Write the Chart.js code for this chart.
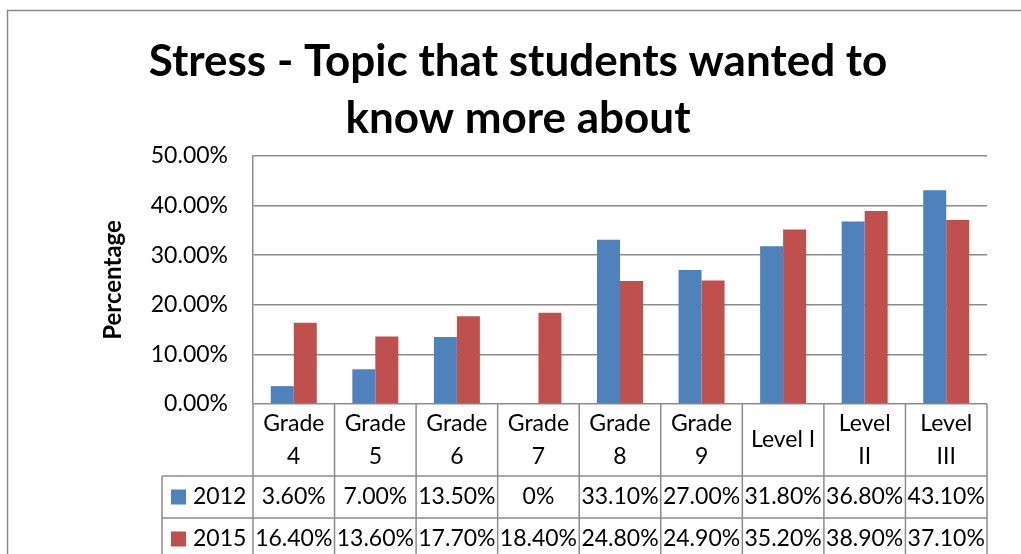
<!DOCTYPE html>
<html>
<head>
<meta charset="utf-8">
<script src="https://cdn.jsdelivr.net/npm/chart.js@4"></script>
<style>
  html, body { margin: 0; padding: 0; background: #fff; }
  canvas { display: block; }
</style>
</head>
<body>
<canvas id="stressChart" width="1021" height="554"></canvas>
<script>
// Données
const categories = ['Grade 4', 'Grade 5', 'Grade 6', 'Grade 7', 'Grade 8', 'Grade 9', 'Level I', 'Level II', 'Level III'];
const headerLines = [['Grade', '4'], ['Grade', '5'], ['Grade', '6'], ['Grade', '7'], ['Grade', '8'], ['Grade', '9'], ['Level I'], ['Level', 'II'], ['Level', 'III']];
const values2012 = [3.6, 7.0, 13.5, 0, 33.1, 27.0, 31.8, 36.8, 43.1];
const values2015 = [16.4, 13.6, 17.7, 18.4, 24.8, 24.9, 35.2, 38.9, 37.1];
const seriesNames = ['2012', '2015'];
const yTicks = [0, 10, 20, 30, 40, 50];

const blue = '#4F81BD';
const red = '#C0504D';
const gridColor = '#8c8c8c';
const fontFamily = 'Lato, "Open Sans", sans-serif';

function fmt(v) {
    return v === 0 ? '0%' : v.toFixed(2) + '%';
}

// Cadre extérieur + tableau de données
const dataTablePlugin = {
    id: 'dataTable',
    beforeDraw(chart) {
        const ctx = chart.ctx;
        ctx.save();
        ctx.strokeStyle = '#8a8a8a';
        ctx.lineWidth = 1.5;
        ctx.strokeRect(7.5, 10.5, 1200, 1000);
        ctx.restore();
    },
    afterDraw(chart) {
        const ctx = chart.ctx;
        const area = chart.chartArea;
        const n = categories.length;
        const step = (area.right - area.left) / n;
        const top = area.bottom;
        const headerBottom = top + 72;
        const row1Bottom = headerBottom + 42;
        const row2Bottom = row1Bottom + 42;
        const legendLeft = 162;

        ctx.save();
        ctx.strokeStyle = gridColor;
        ctx.lineWidth = 1.5;
        ctx.beginPath();
        for (let i = 0; i <= n; i++) {
            const x = area.left + i * step;
            ctx.moveTo(x, top);
            ctx.lineTo(x, row2Bottom);
        }
        ctx.moveTo(legendLeft, headerBottom);
        ctx.lineTo(legendLeft, row2Bottom);
        ctx.moveTo(legendLeft, headerBottom);
        ctx.lineTo(area.right, headerBottom);
        ctx.moveTo(legendLeft, row1Bottom);
        ctx.lineTo(area.right, row1Bottom);
        ctx.stroke();

        ctx.fillStyle = '#000';
        ctx.font = '23px ' + fontFamily;
        ctx.textAlign = 'center';
        ctx.textBaseline = 'middle';

        // En-têtes
        headerLines.forEach((lines, i) => {
            const cx = chart.scales.x.getPixelForValue(i);
            const mid = (top + headerBottom) / 2;
            const lh = 33;
            lines.forEach((t, j) => {
                ctx.fillText(t, cx, mid + (j - (lines.length - 1) / 2) * lh);
            });
        });

        // Lignes de valeurs
        const rows = [values2012, values2015];
        const colors = [blue, red];
        const rowMids = [(headerBottom + row1Bottom) / 2, (row1Bottom + row2Bottom) / 2];
        rows.forEach((vals, r) => {
            const cy = rowMids[r];
            ctx.textAlign = 'center';
            vals.forEach((v, i) => {
                ctx.fillText(fmt(v), chart.scales.x.getPixelForValue(i), cy);
            });
            ctx.fillStyle = colors[r];
            ctx.fillRect(legendLeft + 9, cy - 7.5, 15, 15);
            ctx.fillStyle = '#000';
            ctx.textAlign = 'left';
            ctx.fillText(seriesNames[r], legendLeft + 31, cy);
        });
        ctx.restore();
    }
};

const ctx = document.getElementById('stressChart').getContext('2d');
const stressChart = new Chart(ctx, {
    type: 'bar',
    data: {
        labels: categories,
        datasets: [
            { label: seriesNames[0], data: values2012, backgroundColor: blue },
            { label: seriesNames[1], data: values2015, backgroundColor: red }
        ]
    },
    options: {
        responsive: false,
        animation: false,
        datasets: {
            bar: { barPercentage: 1, categoryPercentage: 0.564 }
        },
        layout: { padding: { left: 49, right: 34, top: 10, bottom: 0 } },
        plugins: {
            legend: { display: false },
            tooltip: { enabled: false },
            title: {
                display: true,
                text: ['Stress - Topic that students wanted to', 'know more about'],
                color: '#000',
                font: { family: fontFamily, size: 44, weight: 'bold', lineHeight: 1.295 },
                padding: { top: 23, bottom: 9 }
            }
        },
        scales: {
            x: {
                grid: { display: false },
                border: { display: false },
                ticks: { display: false },
                afterFit: (scale) => { scale.height = 150; }
            },
            y: {
                min: 0,
                max: 50,
                afterBuildTicks: (scale) => { scale.ticks = yTicks.map(v => ({ value: v })); },
                grid: { color: gridColor, lineWidth: 1.5, drawTicks: false },
                border: { color: gridColor, width: 1.5 },
                ticks: {
                    padding: 25,
                    color: '#000',
                    font: { family: fontFamily, size: 23 },
                    callback: (v) => v.toFixed(2) + '%'
                },
                title: {
                    display: true,
                    text: 'Percentage',
                    color: '#000',
                    font: { family: fontFamily, size: 24, weight: 'bold', lineHeight: 1.2 },
                    padding: { top: 50, bottom: 0 }
                },
                afterFit: (scale) => { scale.width = 204; }
            }
        }
    },
    plugins: [dataTablePlugin]
});
</script>
</body>
</html>
